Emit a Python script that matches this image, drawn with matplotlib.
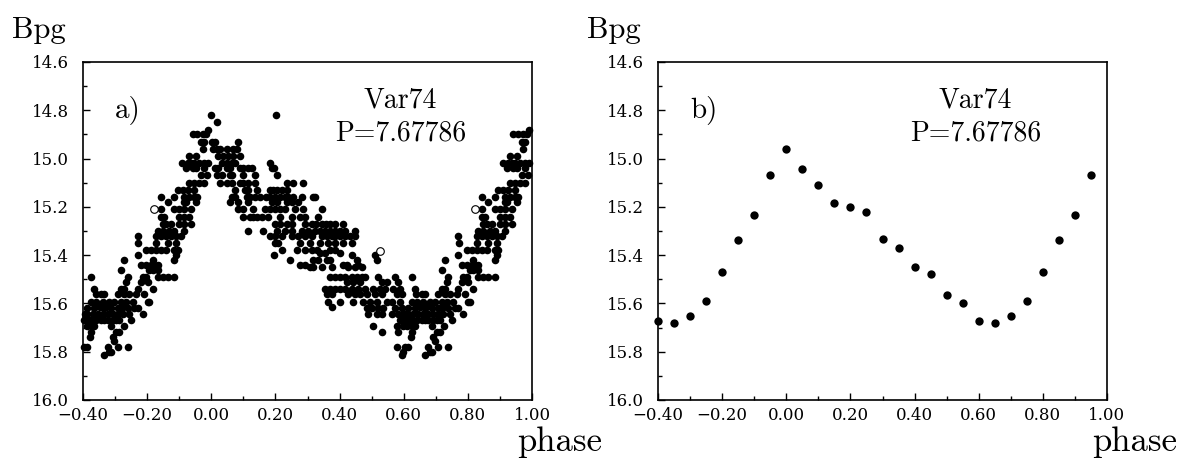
import numpy as np
import matplotlib
matplotlib.use('Agg')
import matplotlib.pyplot as plt
from matplotlib.ticker import MultipleLocator

plt.rcParams['font.family'] = 'serif'
plt.rcParams['font.serif'] = ['cmr10']
plt.rcParams['mathtext.fontset'] = 'cm'

# panel a: individual plate measurements, phase in [0,1), grouped by magnitude row
mag_rows = [14.82, 14.85, 14.88, 14.90, 14.93, 14.96, 14.99, 15.02, 15.04, 15.07,
            15.10, 15.13, 15.16, 15.18, 15.21, 15.24, 15.27, 15.30, 15.32, 15.35,
            15.38, 15.39, 15.40, 15.42, 15.44, 15.45, 15.46, 15.49, 15.51, 15.54,
            15.56, 15.595, 15.615, 15.62, 15.645, 15.67, 15.695, 15.72, 15.74, 15.755,
            15.78, 15.80, 15.815]
phase_rows = [
    [0.000, 0.202],
    [0.017],
    [0.990],
    [0.942, 0.957, 0.973, 0.984],
    [0.001, 0.011, 0.082, 0.968, 0.978],
    [0.006, 0.017, 0.027, 0.048, 0.069, 0.079, 0.973],
    [0.022, 0.038, 0.053, 0.069, 0.090, 0.931, 0.952],
    [0.032, 0.048, 0.064, 0.074, 0.183, 0.910, 0.926, 0.937, 0.947, 0.963, 0.978, 0.990],
    [0.011, 0.022, 0.048, 0.058, 0.090, 0.100, 0.115, 0.126, 0.188, 0.196, 0.921, 0.942, 0.952, 0.978],
    [0.017, 0.032, 0.058, 0.064, 0.100, 0.136, 0.204, 0.968, 0.986],
    [0.027, 0.048, 0.064, 0.090, 0.100, 0.115, 0.136, 0.235, 0.256, 0.287, 0.931, 0.947, 0.963, 0.978],
    [0.074, 0.105, 0.115, 0.141, 0.183, 0.193, 0.204, 0.219, 0.235, 0.895, 0.911, 0.926, 0.947],
    [0.064, 0.074, 0.110, 0.120, 0.136, 0.152, 0.172, 0.183, 0.199, 0.214, 0.230, 0.240, 0.256,
     0.282, 0.318, 0.323, 0.843, 0.885, 0.916, 0.931, 0.947, 0.957],
    [0.058, 0.084, 0.115, 0.188, 0.204, 0.235, 0.251, 0.271, 0.864, 0.916, 0.921, 0.952],
    [0.084, 0.100, 0.131, 0.167, 0.183, 0.199, 0.214, 0.230, 0.261, 0.287, 0.344, 0.843, 0.885,
     0.900, 0.916, 0.937],
    [0.100, 0.121, 0.131, 0.141, 0.157, 0.178, 0.214, 0.251, 0.276, 0.292, 0.334, 0.843, 0.854,
     0.900, 0.916, 0.931],
    [0.199, 0.214, 0.235, 0.251, 0.292, 0.313, 0.328, 0.344, 0.359, 0.370, 0.386, 0.412, 0.848,
     0.859, 0.874, 0.900, 0.916, 0.937],
    [0.115, 0.162, 0.204, 0.230, 0.251, 0.282, 0.303, 0.323, 0.339, 0.355, 0.370, 0.386, 0.401,
     0.417, 0.448, 0.833, 0.848, 0.869, 0.885, 0.916],
    [0.183, 0.199, 0.219, 0.251, 0.271, 0.292, 0.313, 0.344, 0.360, 0.375, 0.386, 0.401, 0.417,
     0.433, 0.448, 0.770, 0.827, 0.843, 0.859, 0.874, 0.890, 0.905],
    [0.199, 0.209, 0.277, 0.308, 0.339, 0.365, 0.386, 0.412, 0.438, 0.772, 0.827, 0.864, 0.890],
    [0.219, 0.266, 0.292, 0.313, 0.329, 0.370, 0.386, 0.796, 0.812, 0.827, 0.843, 0.859, 0.885, 0.895],
    [0.339, 0.355, 0.401],
    [0.194, 0.438, 0.510, 0.770, 0.890],
    [0.245, 0.318, 0.334, 0.360, 0.370, 0.453, 0.516, 0.729, 0.817, 0.885],
    [0.276, 0.292, 0.412, 0.422, 0.458, 0.781, 0.796, 0.812, 0.822, 0.833],
    [0.308, 0.318, 0.344, 0.375, 0.427, 0.448, 0.469],
    [0.718, 0.807, 0.817, 0.833],
    [0.370, 0.386, 0.401, 0.417, 0.438, 0.453, 0.469, 0.479, 0.521, 0.573, 0.625, 0.739, 0.786,
     0.796, 0.833, 0.848, 0.864, 0.885],
    [0.422, 0.443, 0.464, 0.531, 0.547, 0.583, 0.734, 0.781, 0.802],
    [0.355, 0.370, 0.386, 0.401, 0.417, 0.438, 0.458, 0.479, 0.505, 0.526, 0.542, 0.568, 0.589,
     0.634, 0.718, 0.729, 0.770, 0.817],
    [0.360, 0.375, 0.427, 0.448, 0.464, 0.484, 0.510, 0.531, 0.578, 0.594, 0.639, 0.656, 0.666,
     0.708, 0.729, 0.744, 0.765, 0.791],
    [0.365, 0.401, 0.443, 0.474, 0.495, 0.516, 0.547, 0.562, 0.589, 0.625, 0.640, 0.661, 0.682,
     0.698, 0.718, 0.734, 0.755, 0.802, 0.807],
    [0.375, 0.652, 0.671, 0.724],
    [0.484, 0.500, 0.521, 0.536, 0.573, 0.594, 0.614, 0.635, 0.666, 0.687, 0.708, 0.718, 0.739,
     0.760, 0.770],
    [0.490, 0.516, 0.531, 0.562, 0.583, 0.599, 0.606, 0.614, 0.630, 0.646, 0.661, 0.677, 0.692,
     0.708, 0.724, 0.744, 0.786],
    [0.589, 0.604, 0.620, 0.625, 0.640, 0.656, 0.667, 0.677, 0.692, 0.703, 0.713, 0.749],
    [0.505, 0.578, 0.599, 0.611, 0.627, 0.635, 0.687, 0.727],
    [0.531, 0.583, 0.625, 0.703, 0.713],
    [0.622, 0.692],
    [0.697],
    [0.578, 0.604, 0.614, 0.677, 0.708, 0.739],
    [0.599, 0.682, 0.687],
    [0.594, 0.666],
]
open_phase = [0.822, 0.526]
open_mag = [15.21, 15.382]

# panel b: mean light curve
phase_b = [-0.40, -0.35, -0.30, -0.25, -0.20, -0.15, -0.10, -0.05, 0.00, 0.05,
           0.10, 0.15, 0.20, 0.25, 0.30, 0.35, 0.40, 0.45, 0.50, 0.55,
           0.60, 0.65, 0.70, 0.75, 0.80, 0.85, 0.90, 0.95]
mag_b = [15.674, 15.680, 15.651, 15.589, 15.469, 15.336, 15.232, 15.068, 14.962, 15.044,
         15.111, 15.186, 15.200, 15.222, 15.333, 15.371, 15.451, 15.478, 15.565, 15.600,
         15.674, 15.680, 15.651, 15.589, 15.469, 15.336, 15.232, 15.068]

xticks = [-0.4, -0.2, 0.0, 0.2, 0.4, 0.6, 0.8, 1.0]
xlabels = ['\u22120.40', '\u22120.20', '0.00', '0.20', '0.40', '0.60', '0.80', '1.00']
yticks = [14.6, 14.8, 15.0, 15.2, 15.4, 15.6, 15.8, 16.0]
ylabels = ['14.6', '14.8', '15.0', '15.2', '15.4', '15.6', '15.8', '16.0']

pa, ma = [], []
for m, ps in zip(mag_rows, phase_rows):
    for p in ps:
        pa.append(p)
        ma.append(m)
pa = np.array(pa)
ma = np.array(ma)
# phases 0.6..1.0 are repeated at phase-1
sel = pa >= 0.6
pa_all = np.concatenate([pa, pa[sel] - 1.0])
ma_all = np.concatenate([ma, ma[sel]])
op = np.array(open_phase)
om = np.array(open_mag)
osel = op >= 0.6
op_all = np.concatenate([op, op[osel] - 1.0])
om_all = np.concatenate([om, om[osel]])

W, H = 1189, 459
fig = plt.figure(figsize=(W / 100, H / 100), dpi=100)
ax1 = fig.add_axes([83 / W, 1 - 400 / H, 449 / W, 338 / H])
ax2 = fig.add_axes([658 / W, 1 - 400 / H, 449 / W, 338 / H])


def style(ax, tag):
    ax.set_xlim(-0.4, 1.0)
    ax.set_ylim(16.0, 14.6)
    ax.set_xticks(xticks)
    ax.set_xticklabels(xlabels, fontfamily='DejaVu Serif', fontsize=12)
    ax.set_yticks(yticks)
    ax.set_yticklabels(ylabels, fontfamily='DejaVu Serif', fontsize=12)
    ax.xaxis.set_minor_locator(MultipleLocator(0.1))
    ax.yaxis.set_minor_locator(MultipleLocator(0.1))
    ax.tick_params(which='both', direction='in', top=False, right=False, width=1)
    ax.tick_params(which='major', length=5)
    ax.tick_params(which='minor', length=3)
    ax.tick_params(axis='y', pad=10)
    ax.tick_params(axis='x', pad=5)
    for s in ax.spines.values():
        s.set_linewidth(1.2)
    ax.text(-0.30, 14.80, tag, fontsize=21, va='center')
    ax.text(0.59, 14.76, 'Var74', fontsize=20, ha='center', va='center')
    ax.text(0.59, 14.895, 'P=7.67786', fontsize=20, ha='center', va='center')
    ax.annotate('Bpg', xy=(0, 1), xycoords='axes fraction', xytext=(-71, 24),
                textcoords='offset pixels', fontsize=22, ha='left', va='baseline')
    ax.annotate('phase', xy=(1, 0), xycoords='axes fraction', xytext=(-15, -51),
                textcoords='offset pixels', fontsize=25, ha='left', va='baseline',
                annotation_clip=False)


style(ax1, 'a)')
ax1.scatter(pa_all, ma_all, s=30, c='k', linewidths=0, clip_on=False, zorder=3)
ax1.scatter(op_all, om_all, s=30, facecolors='white', edgecolors='k', linewidths=0.8,
            zorder=3)

style(ax2, 'b)')
ax2.scatter(phase_b, mag_b, s=36, c='k', linewidths=0, clip_on=False, zorder=3)

fig.savefig('out.png', dpi=100)
